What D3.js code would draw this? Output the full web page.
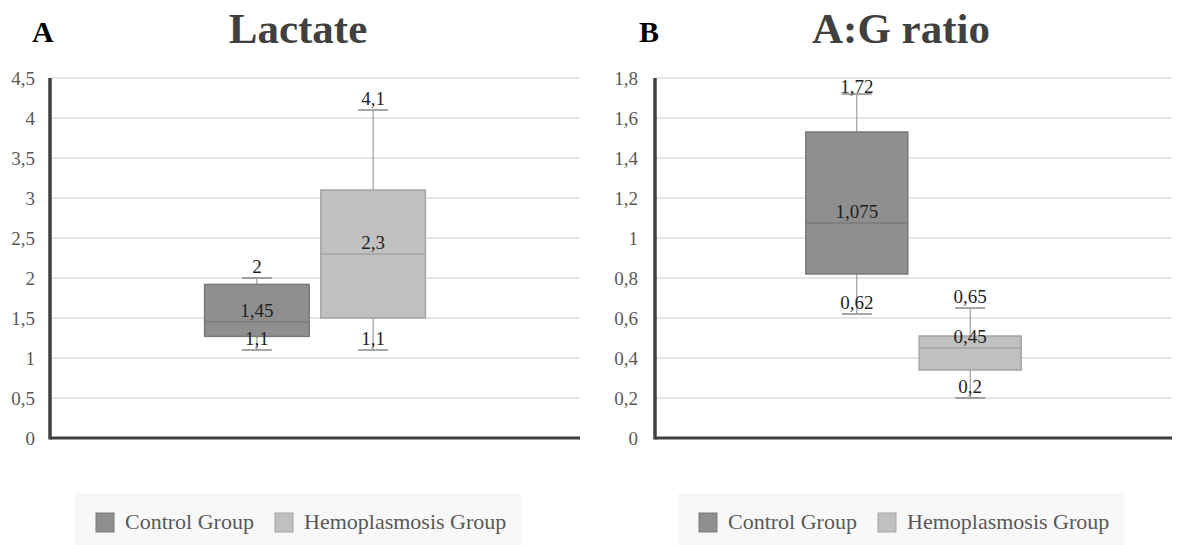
<!DOCTYPE html>
<html>
<head>
<meta charset="utf-8">
<script src="https://cdn.jsdelivr.net/npm/d3@7"></script>
<style>
  body { margin: 0; background: #fff; }
  svg { display: block; }
</style>
</head>
<body>
<div id="chart"></div>
<script>
// groups shown in both panels
const groups = ["Control Group", "Hemoplasmosis Group"];

// Lactate box values (min, q1, median, q3, max)
const lactateMin = [1.1, 1.1];
const lactateQ1 = [1.27, 1.5];
const lactateMedian = [1.45, 2.3];
const lactateQ3 = [1.92, 3.1];
const lactateMax = [2, 4.1];
const lactateTicks = [0, 0.5, 1, 1.5, 2, 2.5, 3, 3.5, 4, 4.5];

// A:G ratio box values
const agMin = [0.62, 0.2];
const agQ1 = [0.82, 0.34];
const agMedian = [1.075, 0.45];
const agQ3 = [1.53, 0.51];
const agMax = [1.72, 0.65];
const agTicks = [0, 0.2, 0.4, 0.6, 0.8, 1, 1.2, 1.4, 1.6, 1.8];

const fills = ["#8f8f8f", "#c0c0c0"];
const strokes = ["#7a7a7a", "#a4a4a4"];
const serif = "'Liberation Serif', 'Times New Roman', serif";

let svg = d3.select("#chart").append("svg")
    .attr("width", 1179)
    .attr("height", 545);

function comma(v) {
    return String(v).replace(".", ",");
}

function drawPanel(p) {
    let top = 78, bottom = 438;

    let y = d3.scaleLinear()
        .domain([0, d3.max(p.ticks)])
        .range([bottom, top]);

    // one category, two boxes inside it
    let x0 = d3.scaleBand()
        .domain(["all"])
        .range([p.left, p.right])
        .paddingOuter(0.7)
        .paddingInner(0);
    let x1 = d3.scaleBand()
        .domain(groups)
        .range([0, x0.bandwidth()])
        .paddingInner(0.1);

    let g = svg.append("g");

    // letter + title
    g.append("text")
        .attr("x", p.letterX)
        .attr("y", 42)
        .attr("font-family", serif)
        .attr("font-weight", "bold")
        .attr("font-size", 30)
        .attr("fill", "#000")
        .text(p.letter);

    g.append("text")
        .attr("x", p.titleX)
        .attr("y", 43)
        .attr("text-anchor", "middle")
        .attr("font-family", serif)
        .attr("font-weight", "bold")
        .attr("font-size", 43)
        .attr("fill", "#404040")
        .text(p.title);

    // gridlines
    g.append("g")
        .selectAll("line")
        .data(p.ticks.filter(function(t) { return t > 0; }))
        .enter().append("line")
        .attr("x1", p.left)
        .attr("x2", p.right)
        .attr("y1", function(d) { return y(d); })
        .attr("y2", function(d) { return y(d); })
        .attr("stroke", "#dcdcdc")
        .attr("stroke-width", 1.5);

    // y axis labels
    let ax = g.append("g")
        .attr("transform", "translate(" + p.left + ",0)")
        .call(d3.axisLeft(y).tickValues(p.ticks).tickSize(0).tickPadding(p.pad).tickFormat(comma));
    ax.select(".domain").remove();
    ax.attr("font-family", serif).attr("font-size", 19);
    ax.selectAll("text")
        .attr("fill", "#595959");

    // boxes
    let boxes = g.append("g")
        .selectAll("g")
        .data(groups.map(function(name, i) {
            return {name: name, i: i, min: p.min[i], q1: p.q1[i], med: p.med[i], q3: p.q3[i], max: p.max[i]};
        }))
        .enter().append("g")
        .attr("transform", function(d) { return "translate(" + (x0("all") + x1(d.name)) + ",0)"; });

    let bw = x1.bandwidth();
    let cx = bw / 2;

    // whiskers
    boxes.append("line")
        .attr("x1", cx).attr("x2", cx)
        .attr("y1", function(d) { return y(d.q3); })
        .attr("y2", function(d) { return y(d.max); })
        .attr("stroke", "#8a8a8a");
    boxes.append("line")
        .attr("x1", cx).attr("x2", cx)
        .attr("y1", function(d) { return y(d.q1); })
        .attr("y2", function(d) { return y(d.min); })
        .attr("stroke", "#8a8a8a");
    boxes.selectAll(".cap")
        .data(function(d) { return [d.min, d.max]; })
        .enter().append("line")
        .attr("class", "cap")
        .attr("x1", cx - 15).attr("x2", cx + 15)
        .attr("y1", function(d) { return y(d); })
        .attr("y2", function(d) { return y(d); })
        .attr("stroke", "#8a8a8a")
        .attr("stroke-width", 1.5);

    boxes.append("rect")
        .attr("x", 0)
        .attr("width", bw)
        .attr("y", function(d) { return y(d.q3); })
        .attr("height", function(d) { return y(d.q1) - y(d.q3); })
        .attr("fill", function(d) { return fills[d.i]; })
        .attr("stroke", function(d) { return strokes[d.i]; })
        .attr("stroke-width", 1.5);

    boxes.append("line")
        .attr("x1", 0).attr("x2", bw)
        .attr("y1", function(d) { return y(d.med); })
        .attr("y2", function(d) { return y(d.med); })
        .attr("stroke", function(d) { return strokes[d.i]; })
        .attr("stroke-width", 1.5);

    // value labels for min, median, max
    boxes.selectAll(".lbl")
        .data(function(d) { return [d.min, d.med, d.max]; })
        .enter().append("text")
        .attr("class", "lbl")
        .attr("x", cx)
        .attr("y", function(d) { return Math.max(y(d) - 5, top + 15); })
        .attr("text-anchor", "middle")
        .attr("font-family", serif)
        .attr("font-size", 19)
        .attr("fill", "#1f1f1f")
        .text(comma);

    // axis lines
    g.append("line")
        .attr("x1", p.left).attr("x2", p.left)
        .attr("y1", top).attr("y2", bottom + 1.5)
        .attr("stroke", "#404040").attr("stroke-width", 3.5);
    g.append("line")
        .attr("x1", p.left).attr("x2", p.right)
        .attr("y1", bottom).attr("y2", bottom)
        .attr("stroke", "#404040").attr("stroke-width", 3);

    // legend
    let lg = g.append("g");
    lg.append("rect")
        .attr("x", p.legX)
        .attr("y", 493)
        .attr("width", 446)
        .attr("height", 52)
        .attr("fill", "#f8f8f8");
    let items = lg.selectAll(".item")
        .data(groups)
        .enter().append("g")
        .attr("class", "item")
        .attr("transform", function(d, i) { return "translate(" + (p.legX + 21 + i * 179) + ",513)"; });
    items.append("rect")
        .attr("width", 18)
        .attr("height", 19)
        .attr("fill", function(d, i) { return fills[i]; })
        .attr("stroke", function(d, i) { return strokes[i]; });
    items.append("text")
        .attr("x", 29)
        .attr("y", 16)
        .attr("font-family", serif)
        .attr("font-size", 22)
        .attr("fill", "#595959")
        .text(function(d) { return d; });
}

drawPanel({
    letter: "A", letterX: 32, title: "Lactate", titleX: 298,
    left: 50, right: 580, pad: 15, ticks: lactateTicks,
    min: lactateMin, q1: lactateQ1, med: lactateMedian, q3: lactateQ3, max: lactateMax,
    legX: 75
});

drawPanel({
    letter: "B", letterX: 639, title: "A:G ratio", titleX: 901,
    left: 655, right: 1172, pad: 17, ticks: agTicks,
    min: agMin, q1: agQ1, med: agMedian, q3: agQ3, max: agMax,
    legX: 678
});
</script>
</body>
</html>
